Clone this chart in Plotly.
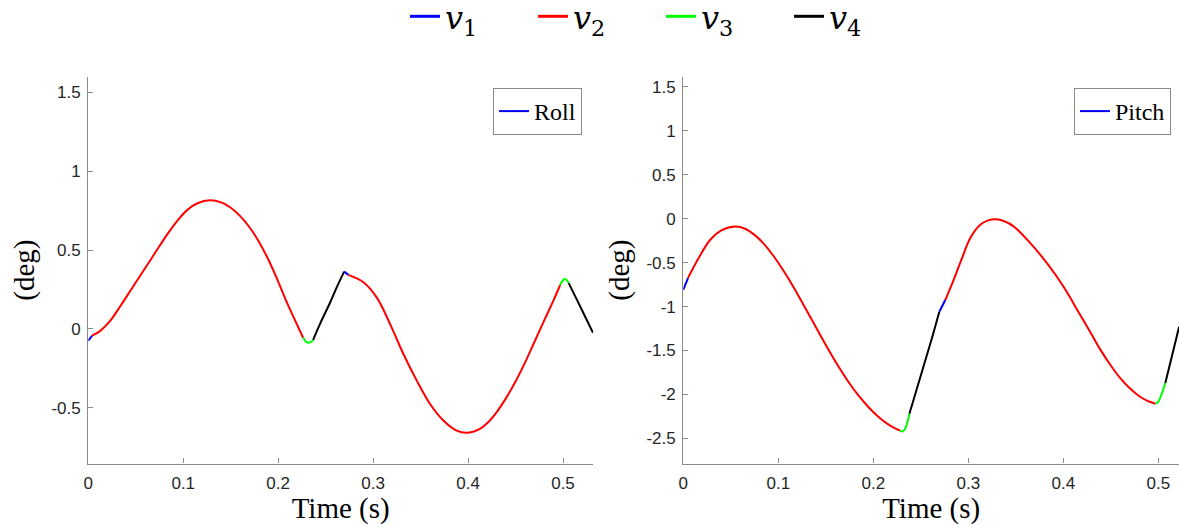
import plotly.graph_objects as go

# Roll angle samples (s, deg); mode gives the active vertex v1..v4.
# Points where the mode switches appear twice so each coloured run joins the next.
roll_t = [0.000, 0.004,
          0.004, 0.0126, 0.023, 0.034, 0.045, 0.055, 0.065, 0.075, 0.085, 0.095, 0.105,
          0.115, 0.128, 0.140, 0.150, 0.160, 0.170, 0.180, 0.190, 0.200, 0.2074, 0.215, 0.2263,
          0.2263, 0.2295, 0.2316, 0.2345, 0.2368,
          0.2368, 0.244, 0.2547, 0.262, 0.2695,
          0.2695, 0.274,
          0.274, 0.2898, 0.3039, 0.3179, 0.3319, 0.346, 0.360, 0.374, 0.388, 0.3986, 0.4126,
          0.420, 0.430, 0.440, 0.450, 0.460, 0.4705, 0.480, 0.490, 0.497,
          0.497, 0.4995, 0.502, 0.504, 0.506,
          0.506, 0.515, 0.5235, 0.5316]
roll_deg = [-0.076, -0.044,
            -0.044, -0.013, 0.050, 0.146, 0.248, 0.340, 0.432, 0.525, 0.615, 0.695, 0.758,
            0.797, 0.816, 0.802, 0.768, 0.715, 0.643, 0.550, 0.435, 0.300, 0.192, 0.090, -0.057,
            -0.057, -0.082, -0.089, -0.083, -0.070,
            -0.070, 0.030, 0.167, 0.268, 0.363,
            0.363, 0.342,
            0.342, 0.295, 0.198, 0.030, -0.160, -0.329, -0.477, -0.582, -0.646, -0.660, -0.635,
            -0.600, -0.530, -0.440, -0.335, -0.215, -0.076, 0.050, 0.180, 0.278,
            0.278, 0.305, 0.316, 0.308, 0.290,
            0.290, 0.180, 0.075, -0.025]
roll_mode = [1, 1,
             2, 2, 2, 2, 2, 2, 2, 2, 2, 2, 2,
             2, 2, 2, 2, 2, 2, 2, 2, 2, 2, 2, 2,
             3, 3, 3, 3, 3,
             4, 4, 4, 4, 4,
             1, 1,
             2, 2, 2, 2, 2, 2, 2, 2, 2, 2, 2,
             2, 2, 2, 2, 2, 2, 2, 2, 2,
             3, 3, 3, 3, 3,
             4, 4, 4, 4]

# Pitch angle samples (s, deg)
pitch_t = [0.000, 0.005,
           0.005, 0.016, 0.0284, 0.040, 0.055, 0.065, 0.075, 0.085, 0.095, 0.105, 0.115,
           0.125, 0.135, 0.145, 0.155, 0.165, 0.175, 0.185, 0.195, 0.205, 0.215, 0.222, 0.228,
           0.228, 0.2305, 0.233, 0.2355, 0.238,
           0.238, 0.246, 0.254, 0.262, 0.2695,
           0.2695, 0.2758,
           0.2758, 0.2845, 0.2934, 0.3021, 0.3126, 0.321, 0.329, 0.338, 0.3477, 0.3653, 0.3828,
           0.4003, 0.410, 0.420, 0.430, 0.439, 0.450, 0.460, 0.470, 0.480, 0.488, 0.497,
           0.497, 0.500, 0.503, 0.5074,
           0.5074, 0.514, 0.521, 0.522]
pitch_deg = [-0.810, -0.674,
             -0.674, -0.450, -0.240, -0.135, -0.090, -0.115, -0.185, -0.290, -0.425, -0.585, -0.760,
             -0.950, -1.145, -1.340, -1.530, -1.710, -1.875, -2.020, -2.145, -2.250, -2.335, -2.380, -2.410,
             -2.410, -2.420, -2.400, -2.330, -2.220,
             -2.220, -1.930, -1.640, -1.350, -1.060,
             -1.060, -0.926,
             -0.926, -0.700, -0.450, -0.220, -0.069, -0.020, -0.008, -0.030, -0.088, -0.278, -0.507,
             -0.774, -0.950, -1.135, -1.320, -1.490, -1.670, -1.815, -1.930, -2.020, -2.070, -2.105,
             -2.105, -2.080, -2.010, -1.870,
             -1.870, -1.580, -1.270, -1.230]
pitch_mode = [1, 1,
              2, 2, 2, 2, 2, 2, 2, 2, 2, 2, 2,
              2, 2, 2, 2, 2, 2, 2, 2, 2, 2, 2, 2,
              3, 3, 3, 3, 3,
              4, 4, 4, 4, 4,
              1, 1,
              2, 2, 2, 2, 2, 2, 2, 2, 2, 2, 2,
              2, 2, 2, 2, 2, 2, 2, 2, 2, 2, 2,
              3, 3, 3, 3,
              4, 4, 4, 4]

mode_labels = ["<i>v</i><sub>1</sub>", "<i>v</i><sub>2</sub>",
               "<i>v</i><sub>3</sub>", "<i>v</i><sub>4</sub>"]
mode_colors = ["#0000ff", "#ff0000", "#00ff00", "#000000"]

x_ticks = [0, 0.1, 0.2, 0.3, 0.4, 0.5]
x_tick_text = ["0", "0.1", "0.2", "0.3", "0.4", "0.5"]
roll_ticks = [-0.5, 0, 0.5, 1, 1.5]
roll_tick_text = ["-0.5", "0", "0.5", "1", "1.5"]
pitch_ticks = [-2.5, -2, -1.5, -1, -0.5, 0, 0.5, 1, 1.5]
pitch_tick_text = ["-2.5", "-2", "-1.5", "-1", "-0.5", "0", "0.5", "1", "1.5"]


def mode_runs(t, y, m):
    """Split a sampled signal into contiguous runs of equal mode."""
    runs, start = [], 0
    for i in range(1, len(m) + 1):
        if i == len(m) or m[i] != m[start]:
            runs.append((m[start], t[start:i], y[start:i]))
            start = i
    return runs


fig = go.Figure()

panels = [("x", "y", roll_t, roll_deg, roll_mode, "Roll", "legend2"),
          ("x2", "y2", pitch_t, pitch_deg, pitch_mode, "Pitch", "legend3")]
for xa, ya, t, y, m, label, leg in panels:
    first_blue = True
    for mode, ts, ys in mode_runs(t, y, m):
        named = mode == 1 and first_blue
        if named:
            first_blue = False
        fig.add_trace(go.Scatter(
            x=ts, y=ys, xaxis=xa, yaxis=ya, mode="lines",
            line=dict(color=mode_colors[mode - 1], width=2, shape="spline", smoothing=1.0),
            name=label if named else mode_labels[mode - 1],
            showlegend=named, legend=leg, hoverinfo="skip"))

# shared key for the four vertices
for lab, col in zip(mode_labels, mode_colors):
    fig.add_trace(go.Scatter(x=[None], y=[None], mode="lines", name=lab,
                             line=dict(color=col, width=3), legend="legend"))

W, H = 1179, 525
axis_col = "#8a8a8a"
serif = "Liberation Serif, Times New Roman, serif"
tick_font = dict(family="Liberation Sans, Arial, sans-serif", size=17, color="#262626")
title_font = dict(family=serif, size=29, color="#000000")

common_x = dict(showgrid=False, zeroline=False, showline=True, linecolor=axis_col, linewidth=1.3,
                ticks="inside", ticklen=5, tickcolor=axis_col, tickwidth=1.3,
                tickvals=x_ticks, ticktext=x_tick_text, tickfont=tick_font,
                ticklabelstandoff=4,
                title=dict(text="Time (s)", font=title_font, standoff=8),
                automargin=False, mirror=False)
common_y = dict(showgrid=False, zeroline=False, showline=True, linecolor=axis_col, linewidth=1.3,
                ticks="inside", ticklen=5, tickcolor=axis_col, tickwidth=1.3, tickfont=tick_font,
                ticklabelstandoff=3,
                title=dict(text="(deg)", font=title_font, standoff=8),
                automargin=False, mirror=False)

y_dom = [1 - 463.5 / H, 1 - 76.7 / H]
legend_font = dict(family=serif, size=24, color="#000000")
fig.update_layout(
    width=W, height=H, margin=dict(l=0, r=0, t=0, b=0, autoexpand=False),
    paper_bgcolor="white", plot_bgcolor="white", template="none",
    xaxis=dict(common_x, domain=[88.3 / W, 593 / W], range=[0, 0.5316], anchor="y"),
    yaxis=dict(common_y, domain=y_dom, range=[-0.855, 1.6], anchor="x",
               tickvals=roll_ticks, ticktext=roll_tick_text),
    xaxis2=dict(common_x, domain=[683.3 / W, 1.0], range=[0, 0.5218], anchor="y2"),
    yaxis2=dict(common_y, domain=y_dom, range=[-2.785, 1.614], anchor="x2",
                tickvals=pitch_ticks, ticktext=pitch_tick_text),
    legend=dict(orientation="h", x=405 / W, xanchor="left", y=1 + 11 / H, yanchor="top",
                font=dict(family="DejaVu Serif, serif", size=32, color="#000000"),
                entrywidth=83, bgcolor="rgba(0,0,0,0)", borderwidth=0),
    legend2=dict(x=582 / W, xanchor="right", y=1 - 88 / H, yanchor="top",
                 font=legend_font, bgcolor="white", bordercolor="#8a8a8a", borderwidth=1),
    legend3=dict(x=1171 / W, xanchor="right", y=1 - 88 / H, yanchor="top",
                 font=legend_font, bgcolor="white", bordercolor="#8a8a8a", borderwidth=1),
)

fig.write_html("out.html")
